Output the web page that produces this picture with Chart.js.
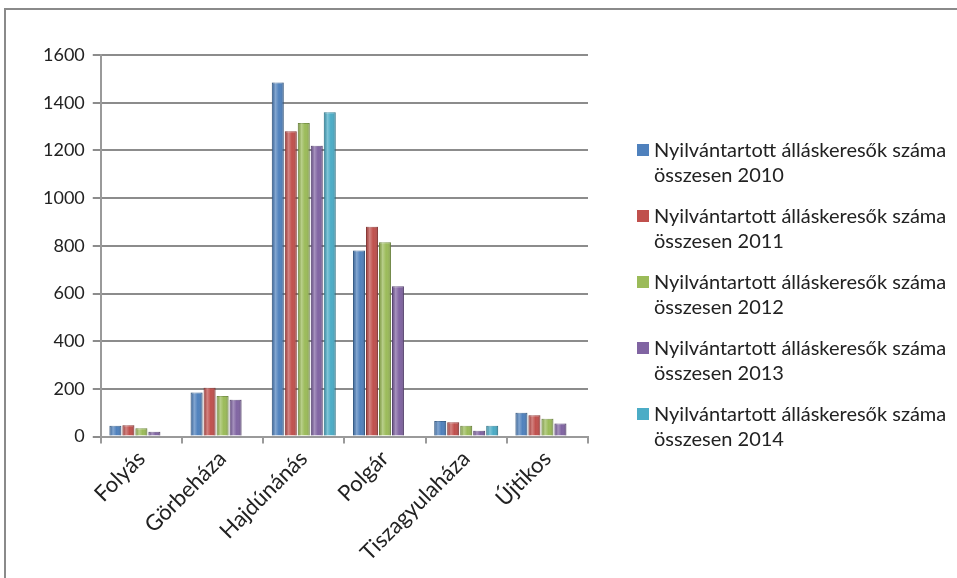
<!DOCTYPE html>
<html>
<head>
<meta charset="utf-8">
<script src="https://cdn.jsdelivr.net/npm/chart.js@4.4.1/dist/chart.umd.min.js"></script>
<style>
    body { margin: 0; background: #fff; }
    .keret { position: absolute; left: 4px; top: 8px; width: 1000px; height: 700px;
             border-left: 2px solid #8a8a8a; border-top: 2px solid #8a8a8a; }
    .contenedor { position: absolute; left: 0; top: 0; width: 957px; height: 578px; }
    #jelmagyarazat { position: absolute; left: 637px; top: 137px; font-family: Lato, "Open Sans", sans-serif;
                     font-size: 20px; color: #222; }
    .tetel { display: flex; align-items: flex-start; margin-bottom: 16px; line-height: 25px; }
    .negyzet { width: 12px; height: 12px; margin: 7px 5px 0 0; flex: none; }
</style>
</head>
<body>
<div class="keret"></div>
<div class="contenedor"><canvas id="grafikon" width="957" height="578"></canvas></div>
<div id="jelmagyarazat"></div>
<script>
const telepulesek = ['Folyás', 'Görbeháza', 'Hajdúnánás', 'Polgár', 'Tiszagyulaháza', 'Újtikos'];
const evek = ['2010', '2011', '2012', '2013', '2014'];
const ertekek2010 = [45, 185, 1485, 780, 65, 100];
const ertekek2011 = [48, 205, 1280, 880, 60, 90];
const ertekek2012 = [35, 170, 1315, 815, 45, 75];
const ertekek2013 = [20, 155, 1220, 630, 25, 55];
const ertekek2014 = [null, null, 1360, null, 45, null];
const yTicks = [0, 200, 400, 600, 800, 1000, 1200, 1400, 1600];
const szinek = ['#4F81BD', '#C0504D', '#9BBB59', '#8064A2', '#4BACC6'];
const keretSzinek = ['#3A6596', '#983B39', '#7A9745', '#634C80', '#3588A0'];

const sorozatok = [ertekek2010, ertekek2011, ertekek2012, ertekek2013, ertekek2014];

const datasets = sorozatok.map((adat, i) => ({
    label: 'Nyilvántartott álláskeresők száma összesen ' + evek[i],
    data: adat,
    backgroundColor: szinek[i],
    borderColor: keretSzinek[i],
    borderWidth: 1,
    categoryPercentage: 0.8,
    barPercentage: 0.92
}));

// henger-hatás: fényes sáv az oszlopokon
const hengerFeny = {
    id: 'hengerFeny',
    afterDatasetsDraw(chart) {
        const c = chart.ctx;
        chart.data.datasets.forEach((ds, i) => {
            chart.getDatasetMeta(i).data.forEach(bar => {
                if (bar.y == null || isNaN(bar.y)) return;
                const bal = bar.x - bar.width / 2;
                const g = c.createLinearGradient(bal, 0, bal + bar.width, 0);
                g.addColorStop(0, 'rgba(0,0,0,0.12)');
                g.addColorStop(0.3, 'rgba(255,255,255,0.3)');
                g.addColorStop(0.6, 'rgba(255,255,255,0)');
                g.addColorStop(1, 'rgba(0,0,0,0.18)');
                c.save();
                c.fillStyle = g;
                c.fillRect(bal, bar.y, bar.width, bar.base - bar.y);
                c.restore();
            });
        });
    }
};

const ctx = document.getElementById('grafikon').getContext('2d');
new Chart(ctx, {
    type: 'bar',
    data: { labels: telepulesek, datasets: datasets },
    plugins: [hengerFeny],
    options: {
        responsive: false,
        animation: false,
        layout: { padding: { top: 55, left: 35, right: 369, bottom: 10 } },
        plugins: { legend: { display: false }, tooltip: { enabled: false } },
        scales: {
            x: {
                grid: { display: true, drawOnChartArea: false, color: '#9a9a9a', lineWidth: 2, tickLength: 7, offset: true },
                border: { color: '#9a9a9a', width: 2 },
                ticks: { color: '#222', font: { family: 'Lato', size: 22 }, minRotation: 45, maxRotation: 45, padding: 2 }
            },
            y: {
                min: 0, max: 1600,
                afterBuildTicks: axis => { axis.ticks = yTicks.map(v => ({ value: v })); },
                grid: { color: '#8c8c8c', lineWidth: 2, tickLength: 8 },
                border: { color: '#9a9a9a', width: 2 },
                ticks: { color: '#222', font: { family: 'Lato', size: 18 }, padding: 8, callback: v => String(v) }
            }
        }
    }
});

const jm = document.getElementById('jelmagyarazat');
datasets.forEach((ds, i) => {
    const t = document.createElement('div');
    t.className = 'tetel';
    t.innerHTML = `<span class="negyzet" style="background:${szinek[i]}"></span>` +
        `<span>Nyilvántartott álláskeresők száma<br>összesen ${evek[i]}</span>`;
    jm.appendChild(t);
});
</script>
</body>
</html>
